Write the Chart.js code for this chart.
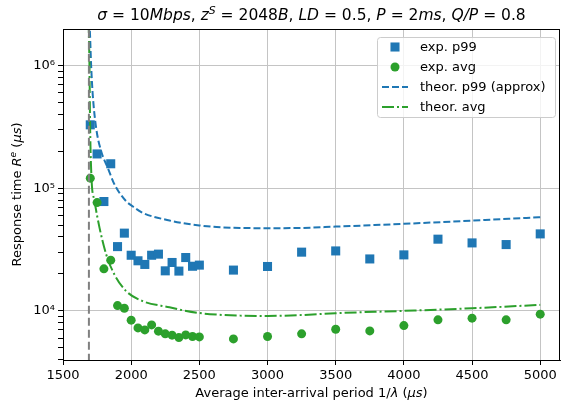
<!DOCTYPE html>
<html>
<head>
<meta charset="utf-8">
<script src="https://cdn.jsdelivr.net/npm/chart.js@4.4.1/dist/chart.umd.min.js"></script>
<style>
  html, body { margin: 0; padding: 0; background: #fff; }
  canvas { display: block; }
</style>
</head>
<body>
<canvas id="chart" width="561" height="405"></canvas>
<script>
// experimental points (1/lambda in us, response time in us)
const expX = [1700, 1750, 1800, 1850, 1900, 1950, 2000, 2050, 2100, 2150, 2200, 2250, 2300, 2350,
              2400, 2450, 2500, 2750, 3000, 3250, 3500, 3750, 4000, 4250, 4500, 4750, 5000];
const expP99 = [328000, 190000, 77800, 158000, 33400, 43000, 28400, 25600, 23900, 28400, 29000, 21200, 24800, 21100,
                27200, 23100, 23600, 21500, 23000, 30100, 30800, 26500, 28600, 38400, 35800, 34700, 42400];
const expAvg = [120600, 76300, 22000, 25900, 11040, 10500, 8400, 7270, 7000, 7690, 6840, 6500, 6340, 6060,
                6370, 6180, 6140, 5910, 6180, 6500, 7090, 6870, 7590, 8450, 8720, 8450, 9400];

// theoretical curves
const theorP99X = [1693, 1698, 1706, 1718, 1743, 1780, 1829, 1878, 1963, 2013, 2085, 2281,
                   2381, 2500, 2626, 2800, 3000, 3250, 3500, 4000, 4500, 5000];
const theorP99 = [2300000, 1800000, 1020000, 580000, 310000, 200000, 146000, 107000, 78300, 70800, 62900, 54500,
                  51800, 49700, 48200, 47400, 47200, 47400, 48600, 51200, 54400, 58000];
const theorAvgX = [1688, 1694, 1699, 1709, 1731, 1768, 1817, 1877, 1963, 2085, 2281,
                   2381, 2500, 2626, 2800, 3000, 3250, 3500, 4000, 4500, 5000];
const theorAvg = [2300000, 1000000, 310000, 121000, 79000, 47500, 28800, 19800, 14500, 12000, 10700,
                  10100, 9600, 9330, 9150, 9100, 9250, 9580, 10000, 10500, 11200];

// stability bound (vertical dashed line)
const boundX = 1690;

// axes
const xMin = 1500, xMax = 5145;
const yMin = 3980, yMax = 1980000;
const xTicks = [1500, 2000, 2500, 3000, 3500, 4000, 4500, 5000];
const yMajorTicks = [1e4, 1e5, 1e6];
const yTickLabels = ['10⁴', '10⁵', '10⁶'];

const yMinorTicks = [];
[1e3, 1e4, 1e5, 1e6].forEach(d => {
    for (let k = 2; k <= 9; k++) {
        const v = k * d;
        if (v >= yMin && v <= yMax) yMinorTicks.push(v);
    }
});
const yTicks = yMajorTicks.concat(yMinorTicks).sort((a, b) => a - b);

const blue = '#1f77b4';
const green = '#2ca02c';
const FONT = '"DejaVu Sans"';

function pts(xs, ys) {
    return xs.map((x, i) => ({ x: x, y: ys[i] }));
}

// text runs: [text, italic, superscript]
const titleRuns = [
    ['σ', 1], [' = ', 0], ['10', 0], ['Mbps', 1], [', ', 0], ['z', 1], ['S', 1, 1], [' = ', 0], ['2048', 0], ['B', 1],
    [', ', 0], ['LD', 1], [' = ', 0], ['0.5', 0], [', ', 0], ['P', 1], [' = ', 0], ['2', 0], ['ms', 1],
    [', ', 0], ['Q/P', 1], [' = ', 0], ['0.8', 0]
];
const yLabelRuns = [['Response time ', 0], ['R', 1], ['e', 1, 1], [' (', 0], ['µs', 1], [')', 0]];
const xLabelRuns = [['Average inter-arrival period 1/', 0], ['λ', 1], [' (', 0], ['µs', 1], [')', 0]];

function drawRich(ctx, runs, x, y, size, angle) {
    const fontFor = r => (r[1] ? 'italic ' : '') + (r[2] ? size * 0.7 : size) + 'px ' + FONT;
    let total = 0;
    const widths = runs.map(r => {
        ctx.font = fontFor(r);
        const w = ctx.measureText(r[0]).width;
        total += w;
        return w;
    });
    ctx.save();
    ctx.translate(x, y);
    if (angle) ctx.rotate(angle);
    ctx.fillStyle = '#000';
    ctx.textAlign = 'left';
    ctx.textBaseline = 'alphabetic';
    let cx = -total / 2;
    runs.forEach((r, i) => {
        ctx.font = fontFor(r);
        ctx.fillText(r[0], cx, r[2] ? -size * 0.38 : 0);
        cx += widths[i];
    });
    ctx.restore();
}

function roundRect(ctx, x, y, w, h, r) {
    ctx.beginPath();
    ctx.moveTo(x + r, y);
    ctx.lineTo(x + w - r, y);
    ctx.arcTo(x + w, y, x + w, y + r, r);
    ctx.lineTo(x + w, y + h - r);
    ctx.arcTo(x + w, y + h, x + w - r, y + h, r);
    ctx.lineTo(x + r, y + h);
    ctx.arcTo(x, y + h, x, y + h - r, r);
    ctx.lineTo(x, y + r);
    ctx.arcTo(x, y, x + r, y, r);
    ctx.closePath();
}

const decorations = {
    id: 'decorations',
    afterDatasetsDraw(chart) {
        const ctx = chart.ctx, ca = chart.chartArea;
        ctx.save();
        ctx.strokeStyle = '#000';
        ctx.lineWidth = 1;
        ctx.strokeRect(Math.round(ca.left) + 0.5, Math.round(ca.top) + 0.5,
                       Math.round(ca.right - ca.left) - 1, Math.round(ca.bottom - ca.top));
        ctx.restore();
    },
    afterDraw(chart) {
        const ctx = chart.ctx, ca = chart.chartArea;
        const midX = (ca.left + ca.right) / 2;
        drawRich(ctx, titleRuns, midX, 20, 15.5);
        drawRich(ctx, xLabelRuns, midX, 397, 13);
        drawRich(ctx, yLabelRuns, 21, (ca.top + ca.bottom) / 2, 13, -Math.PI / 2);

        // legend
        const items = chart.data.datasets.filter(d => d.label);
        ctx.save();
        ctx.font = '13px ' + FONT;
        const textW = Math.max(...items.map(d => ctx.measureText(d.label).width));
        const pad = 5, handleW = 26, gap = 12, rowH = 20;
        const boxW = Math.max(178, pad + handleW + gap + textW + pad);
        const boxH = items.length * rowH;
        const bx = ca.right - 5 - boxW, by = ca.top + 8;
        roundRect(ctx, bx + 0.5, by + 0.5, boxW, boxH, 3);
        ctx.fillStyle = 'rgba(255,255,255,0.8)';
        ctx.fill();
        ctx.strokeStyle = '#cccccc';
        ctx.lineWidth = 1;
        ctx.stroke();
        items.forEach((d, i) => {
            const cy = by + 10 + i * rowH;
            const hx = bx + pad;
            if (d.showLine) {
                ctx.save();
                ctx.strokeStyle = d.borderColor;
                ctx.lineWidth = d.borderWidth;
                ctx.setLineDash(d.borderDash || []);
                ctx.beginPath();
                ctx.moveTo(hx, cy);
                ctx.lineTo(hx + handleW, cy);
                ctx.stroke();
                ctx.restore();
            } else {
                ctx.fillStyle = d.backgroundColor;
                const mx = hx + handleW / 2;
                if (d.pointStyle === 'rect') {
                    const s = d.pointRadius * Math.SQRT1_2;
                    ctx.fillRect(mx - s, cy - s, 2 * s, 2 * s);
                } else {
                    ctx.beginPath();
                    ctx.arc(mx, cy, d.pointRadius, 0, 2 * Math.PI);
                    ctx.fill();
                }
            }
            ctx.fillStyle = '#000';
            ctx.textAlign = 'left';
            ctx.textBaseline = 'middle';
            ctx.fillText(d.label, hx + handleW + gap, cy + 1);
        });
        ctx.restore();
    }
};

Chart.defaults.font.family = FONT;
Chart.defaults.font.size = 13;
Chart.defaults.color = '#000';

new Chart(document.getElementById('chart'), {
    type: 'scatter',
    data: {
        datasets: [
            {
                label: 'exp. p99',
                data: pts(expX, expP99),
                pointStyle: 'rect',
                pointRadius: 6.4,
                backgroundColor: blue,
                borderWidth: 0,
                order: 4
            },
            {
                label: 'exp. avg',
                data: pts(expX, expAvg),
                pointStyle: 'circle',
                pointRadius: 4.5,
                backgroundColor: green,
                borderWidth: 0,
                order: 3
            },
            {
                label: 'theor. p99 (approx)',
                data: pts(theorP99X, theorP99),
                showLine: true,
                borderColor: blue,
                borderWidth: 2,
                borderDash: [7, 3],
                pointRadius: 0,
                cubicInterpolationMode: 'monotone',
                clip: 0,
                order: 2
            },
            {
                label: 'theor. avg',
                data: pts(theorAvgX, theorAvg),
                showLine: true,
                borderColor: green,
                borderWidth: 2,
                borderDash: [12, 3, 2, 3],
                pointRadius: 0,
                cubicInterpolationMode: 'monotone',
                clip: 0,
                order: 1
            },
            {
                data: pts([boundX, boundX], [1e3, 1e7]),
                showLine: true,
                borderColor: '#808080',
                borderWidth: 2,
                borderDash: [8, 4],
                pointRadius: 0,
                clip: 0,
                order: 0
            }
        ]
    },
    options: {
        responsive: false,
        animation: false,
        devicePixelRatio: 1,
        events: [],
        layout: { autoPadding: false, padding: { top: 29, right: 1, left: 0, bottom: 0 } },
        plugins: {
            legend: { display: false },
            tooltip: { enabled: false },
            title: { display: false }
        },
        scales: {
            x: {
                type: 'linear',
                min: xMin,
                max: xMax,
                afterBuildTicks: axis => { axis.ticks = xTicks.map(v => ({ value: v })); },
                afterFit: axis => { axis.height = 45; axis.paddingLeft = 0; axis.paddingRight = 0; },
                ticks: {
                    color: '#000',
                    padding: 3,
                    maxRotation: 0,
                    autoSkip: false,
                    font: { size: 13 },
                    callback: v => String(v)
                },
                grid: { color: '#c4c4c4', lineWidth: 1, tickLength: 5, tickColor: '#000', tickWidth: 1 },
                border: { display: true, color: '#000', width: 1 }
            },
            y: {
                type: 'logarithmic',
                min: yMin,
                max: yMax,
                afterBuildTicks: axis => { axis.ticks = yTicks.map(v => ({ value: v })); },
                afterFit: axis => { axis.width = 63; axis.paddingTop = 0; axis.paddingBottom = 0; },
                ticks: {
                    color: '#000',
                    padding: 3,
                    autoSkip: false,
                    font: { size: 13 },
                    callback: v => {
                        const i = yMajorTicks.indexOf(v);
                        return i >= 0 ? yTickLabels[i] : '';
                    }
                },
                grid: {
                    color: c => (c.tick && yMajorTicks.includes(c.tick.value)) ? '#c4c4c4' : 'rgba(0,0,0,0)',
                    lineWidth: 1,
                    tickLength: 5,
                    tickColor: '#000',
                    tickWidth: 1
                },
                border: { display: true, color: '#000', width: 1 }
            }
        }
    },
    plugins: [decorations]
});
</script>
</body>
</html>
